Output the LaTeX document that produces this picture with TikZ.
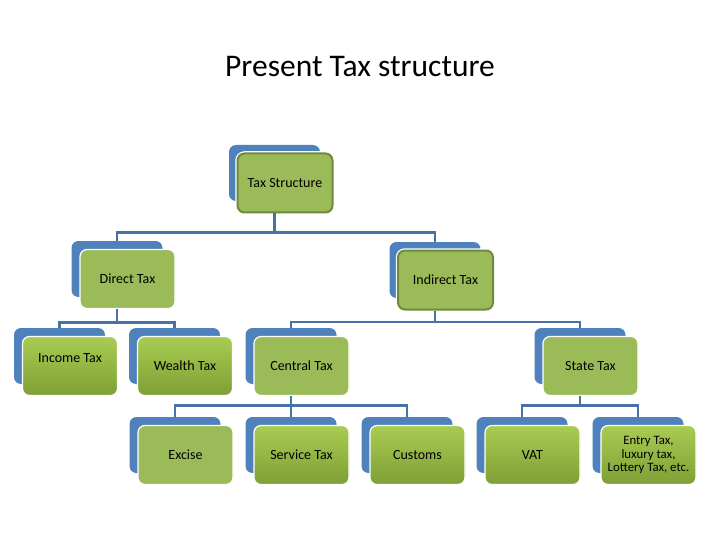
\documentclass[tikz,border=0pt]{standalone}
\usepackage{fontspec}
\setmainfont{Carlito}
\usepackage{xcolor}
\usepackage{tikz}
\usetikzlibrary{positioning}
\definecolor{txblue}{HTML}{4F81BD}
\definecolor{txline}{HTML}{4672A8}
\definecolor{txgreen}{HTML}{9BBB59}
\definecolor{txdark}{HTML}{6E8A3C}
\definecolor{txtop}{HTML}{A9CC52}
\definecolor{txbot}{HTML}{7E9F35}

\begin{document}
\begin{tikzpicture}[x=1pt,y=-1pt,
  back/.style={rectangle,rounded corners=7pt,fill=txblue,minimum width=91pt,minimum height=56pt,inner sep=0pt},
  front/.style={rectangle,rounded corners=7pt,fill=txgreen,draw=white,line width=1.2pt,minimum width=95pt,minimum height=59pt,inner sep=0pt,align=center,font=\fontsize{14}{16.8}\selectfont},
  edged/.style={front,draw=txdark,line width=2pt,preaction={draw=white,line width=4.5pt}},
  shaded/.style={front,top color=txtop,bottom color=txbot},
  conn/.style={txline,line width=2.8pt}]
  \fill[white] (0,0) rectangle (720,540);
  \useasboundingbox (0,0) rectangle (720,540);
  \node[font=\fontsize{31.5}{38}\selectfont] (title) at (360,67) {Present Tax structure};
  % top
  \node[back] (tsb) at (274.5,173) {};
  \node[edged] (ts) at ([shift={(10.5,10)}]tsb.center) {Tax Structure};
  % second row
  \node[back] (dtb) at (117,269) {};
  \node[front] (dt) at ([shift={(10.5,10)}]dtb.center) {Direct Tax};
  \node[back] (itb) at (435,270) {};
  \node[edged] (it) at ([shift={(10.5,10)}]itb.center) {Indirect Tax};
  % third row
  \node[back] (incb) at (59.5,356) {};
  \node[shaded,text depth=15pt] (inc) at ([shift={(10.5,10)}]incb.center) {Income Tax};
  \node[back] (wtb) at (174.5,356) {};
  \node[shaded] (wt) at ([shift={(10.5,10)}]wtb.center) {Wealth Tax};
  \node[back] (ctb) at (291,356) {};
  \node[front] (ct) at ([shift={(10.5,10)}]ctb.center) {Central Tax};
  \node[back] (stb) at (580,356) {};
  \node[front] (st) at ([shift={(10.5,10)}]stb.center) {State Tax};
  % bottom row
  \node[back] (exb) at (175,445) {};
  \node[front] (ex) at ([shift={(10.5,10)}]exb.center) {Excise};
  \node[back] (svb) at (291,445) {};
  \node[shaded] (sv) at ([shift={(10.5,10)}]svb.center) {Service Tax};
  \node[back] (cub) at (407,445) {};
  \node[shaded] (cu) at ([shift={(10.5,10)}]cub.center) {Customs};
  \node[back] (vatb) at (522,445) {};
  \node[shaded] (vat) at ([shift={(10.5,10)}]vatb.center) {VAT};
  \node[back] (entb) at (638,445) {};
  \node[shaded,font=\fontsize{12.8}{13.5}\selectfont] (ent) at ([shift={(10.5,10)}]entb.center) {Entry Tax,\\luxury tax,\\Lottery Tax, etc.};
  % connectors
  \foreach \c in {dtb,itb} \draw[conn] (tsb |- ts.south) -- ++(0,19) -| (\c.north);
  \foreach \c in {incb,wtb} \draw[conn] (dtb |- dt.south) -- ++(0,13.5) -| (\c.north);
  \foreach \c in {ctb,stb} \draw[conn] (itb |- it.south) -- ++(0,11.5) -| (\c.north);
  \foreach \c in {exb,svb,cub} \draw[conn] (ctb |- ct.south) -- ++(0,9.5) -| (\c.north);
  \foreach \c in {vatb,entb} \draw[conn] (stb |- st.south) -- ++(0,9.5) -| (\c.north);
\end{tikzpicture}
\end{document}
